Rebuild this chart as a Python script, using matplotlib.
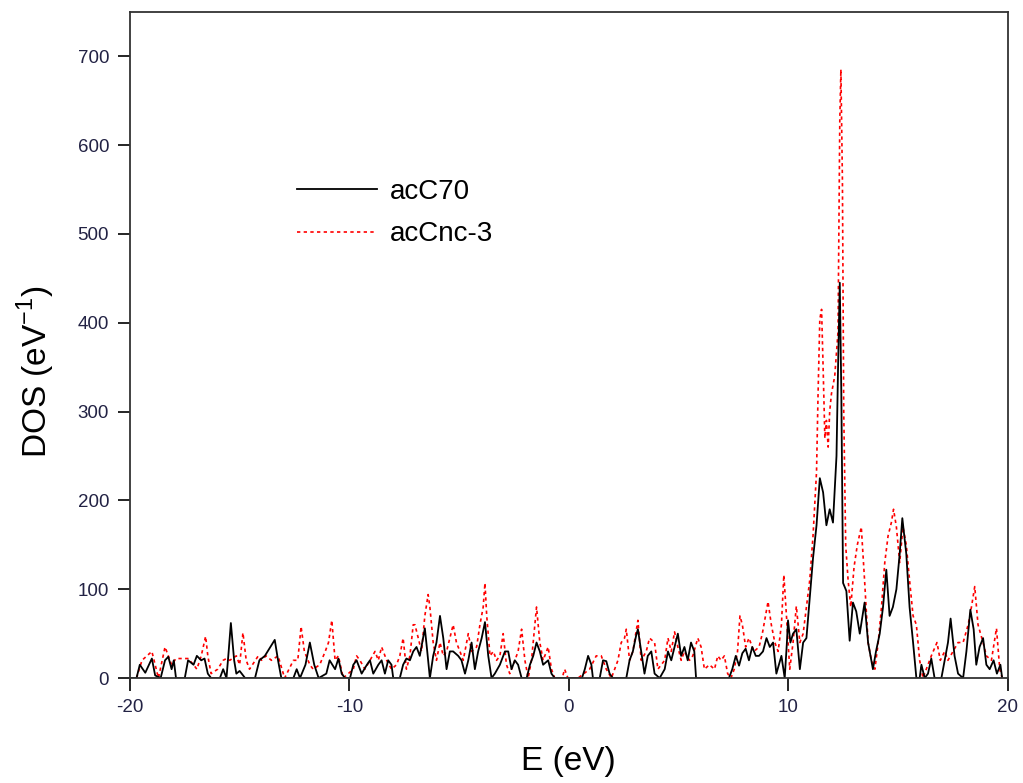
import matplotlib
matplotlib.use("Agg")
from matplotlib import pyplot as plt

# acC70 (black, solid)
e_c70 = [-20.0, -19.7, -19.55, -19.3, -19.0, -18.85, -18.6, -18.4, -18.25, -18.1,
         -18.0, -17.9, -17.5, -17.35, -17.1, -16.95, -16.75, -16.6, -16.45, -16.3,
         -15.9, -15.75, -15.6, -15.5, -15.4, -15.25, -15.15, -15.0, -14.75, -14.3,
         -14.1, -13.85, -13.65, -13.4, -13.25, -13.1, -12.55, -12.4, -12.25, -12.0,
         -11.8, -11.6, -11.4, -11.05, -10.9, -10.65, -10.5, -10.35, -10.2, -9.97,
         -9.82, -9.67, -9.44, -9.2, -9.06, -8.91, -8.68, -8.53, -8.38, -8.23,
         -8.08, -8.0, -7.7, -7.55, -7.4, -7.24, -7.09, -6.94, -6.79, -6.56,
         -6.45, -6.33, -6.18, -6.03, -5.87, -5.72, -5.57, -5.42, -5.27, -5.04,
         -4.89, -4.73, -4.58, -4.43, -4.28, -4.13, -3.97, -3.82, -3.67, -3.52,
         -3.37, -3.14, -2.91, -2.76, -2.61, -2.46, -2.31, -2.15, -1.92, -1.77,
         -1.62, -1.47, -1.32, -1.17, -0.94, -0.79, -0.64, 0.6, 0.73, 0.88,
         1.03, 1.1, 1.41, 1.56, 1.71, 1.86, 2.01, 2.62, 2.77, 2.92,
         3.07, 3.15, 3.3, 3.45, 3.6, 3.76, 3.91, 4.14, 4.37, 4.52,
         4.67, 4.82, 4.97, 5.12, 5.27, 5.42, 5.57, 5.72, 5.8, 7.3,
         7.45, 7.61, 7.76, 7.91, 8.06, 8.21, 8.36, 8.52, 8.67, 8.85,
         9.01, 9.16, 9.31, 9.46, 9.69, 9.84, 9.94, 9.99, 10.1, 10.22,
         10.37, 10.53, 10.68, 10.83, 10.98, 11.13, 11.29, 11.44, 11.59, 11.74,
         11.89, 12.04, 12.2, 12.27, 12.35, 12.42, 12.5, 12.65, 12.8, 12.95,
         13.1, 13.26, 13.48, 13.64, 13.86, 14.0, 14.17, 14.32, 14.47, 14.62,
         14.77, 14.93, 15.08, 15.2, 15.38, 15.53, 15.69, 15.84, 15.99, 16.07,
         16.22, 16.37, 16.52, 16.67, 16.98, 17.13, 17.28, 17.4, 17.58, 17.74,
         17.97, 18.12, 18.3, 18.45, 18.57, 18.72, 18.88, 19.03, 19.18, 19.36,
         19.51, 19.67, 19.75]
dos_c70 = [0, 0, 15, 6, 22, 3, 0, 20, 24, 10,
           20, 0, 0, 20, 15, 25, 20, 22, 5, 0,
           0, 10, 0, 30, 62, 20, 5, 8, 0, 0,
           20, 25, 33, 43, 20, 0, 0, 10, 0, 15,
           40, 15, 0, 5, 20, 10, 22, 5, 0, 0,
           15, 20, 5, 15, 20, 5, 15, 20, 5, 20,
           15, 0, 0, 15, 22, 20, 30, 35, 25, 56,
           30, 0, 25, 40, 70, 45, 10, 30, 30, 25,
           20, 5, 20, 40, 10, 30, 45, 63, 25, 0,
           5, 15, 30, 30, 10, 20, 15, 0, 0, 15,
           25, 40, 30, 15, 20, 5, 0, 0, 10, 25,
           15, 0, 0, 20, 19, 5, 0, 0, 20, 30,
           48, 55, 30, 5, 25, 30, 5, 0, 10, 30,
           20, 35, 50, 25, 35, 20, 40, 30, 0, 0,
           10, 25, 14, 28, 33, 20, 35, 25, 25, 30,
           45, 35, 40, 5, 25, 0, 40, 65, 40, 50,
           55, 10, 40, 45, 90, 135, 172, 225, 209, 172,
           190, 175, 250, 348, 445, 320, 107, 98, 42, 85,
           75, 50, 85, 40, 10, 30, 50, 80, 122, 70,
           80, 100, 140, 180, 140, 80, 40, 0, 0, 15,
           0, 5, 22, 0, 0, 20, 40, 67, 25, 5,
           0, 30, 77, 55, 15, 35, 45, 15, 10, 20,
           5, 15, 0]

# acCnc-3 (red, dotted)
e_cnc = [-20.0, -19.7, -19.45, -19.0, -18.7, -18.4, -18.1, -17.9, -17.55, -17.35,
         -17.1, -16.95, -16.75, -16.55, -16.45, -16.3, -16.0, -15.75, -15.6, -15.45,
         -15.15, -15.0, -14.85, -14.7, -14.55, -14.15, -14.0, -13.8, -13.55, -13.25,
         -12.95, -12.55, -12.35, -12.2, -12.05, -11.8, -11.65, -11.35, -11.1, -10.95,
         -10.8, -10.65, -10.5, -10.28, -9.82, -9.67, -9.52, -9.29, -9.06, -8.83,
         -8.68, -8.53, -8.3, -8.08, -7.85, -7.7, -7.55, -7.4, -7.24, -7.09,
         -7.01, -6.86, -6.71, -6.56, -6.41, -6.33, -6.18, -6.03, -5.87, -5.72,
         -5.57, -5.42, -5.27, -5.12, -4.96, -4.81, -4.58, -4.43, -4.2, -4.05,
         -3.9, -3.82, -3.74, -3.59, -3.44, -3.29, -3.14, -2.99, -2.84, -2.69,
         -2.53, -2.31, -2.15, -2.0, -1.85, -1.7, -1.47, -1.32, -1.17, -0.94,
         -0.79, -0.64, -0.3, -0.19, -0.04, 0.42, 0.95, 1.25, 1.48, 1.71,
         1.94, 2.24, 2.39, 2.54, 2.62, 2.77, 2.92, 3.15, 3.3, 3.53,
         3.68, 3.91, 4.06, 4.37, 4.52, 4.67, 4.82, 4.97, 5.12, 5.27,
         5.5, 5.65, 5.88, 6.03, 6.18, 6.41, 6.64, 6.79, 6.94, 7.09,
         7.24, 7.39, 7.54, 7.69, 7.8, 7.91, 8.06, 8.21, 8.44, 8.67,
         8.82, 9.08, 9.23, 9.39, 9.54, 9.69, 9.8, 9.92, 10.07, 10.22,
         10.37, 10.53, 10.68, 10.83, 10.98, 11.13, 11.29, 11.36, 11.44, 11.52,
         11.59, 11.67, 11.74, 11.82, 11.89, 11.97, 12.12, 12.27, 12.35, 12.4,
         12.47, 12.53, 12.62, 12.73, 12.85, 13.0, 13.15, 13.33, 13.48, 13.64,
         13.79, 13.95, 14.1, 14.25, 14.4, 14.55, 14.7, 14.8, 14.93, 15.08,
         15.23, 15.38, 15.53, 15.69, 15.84, 15.99, 16.14, 16.29, 16.52, 16.78,
         16.93, 17.13, 17.28, 17.51, 17.74, 17.97, 18.2, 18.35, 18.5, 18.65,
         18.88, 19.03, 19.26, 19.49, 19.64, 19.75]
dos_cnc = [0, 0, 20, 30, 0, 35, 15, 22, 22, 22,
           15, 10, 25, 47, 25, 5, 10, 20, 22, 20,
           25, 15, 51, 20, 10, 25, 20, 25, 20, 25,
           0, 20, 20, 58, 30, 15, 10, 15, 30, 40,
           65, 20, 25, 0, 10, 25, 20, 10, 20, 30,
           20, 35, 20, 10, 15, 25, 45, 10, 25, 60,
           60, 45, 30, 70, 94, 80, 40, 20, 40, 25,
           30, 45, 60, 40, 30, 20, 50, 30, 35, 60,
           80, 107, 70, 25, 30, 20, 25, 50, 15, 5,
           15, 30, 55, 20, 0, 20, 80, 40, 20, 35,
           10, 0, 0, 10, 0, 0, 10, 25, 25, 10,
           0, 20, 40, 45, 55, 20, 30, 65, 20, 30,
           45, 40, 10, 20, 45, 30, 52, 35, 20, 30,
           20, 25, 45, 35, 10, 15, 10, 25, 20, 25,
           5, 0, 10, 30, 70, 60, 35, 45, 30, 35,
           50, 86, 60, 40, 30, 60, 116, 70, 10, 40,
           81, 40, 50, 80, 110, 160, 232, 320, 404, 415,
           350, 270, 290, 260, 300, 320, 340, 390, 627, 685,
           560, 300, 149, 110, 80, 125, 150, 170, 110, 40,
           20, 10, 40, 80, 130, 160, 175, 190, 170, 130,
           170, 150, 110, 70, 60, 20, 0, 10, 25, 40,
           20, 30, 20, 30, 40, 40, 60, 80, 103, 60,
           40, 25, 20, 56, 10, 0]

x_ticks = [-20, -10, 0, 10, 20]
y_ticks = [0, 100, 200, 300, 400, 500, 600, 700]

plt.rcParams['font.family'] = ['Liberation Sans', 'DejaVu Sans']
plt.rcParams['axes.unicode_minus'] = False
plt.rcParams['mathtext.fontset'] = 'custom'
plt.rcParams['mathtext.rm'] = 'Liberation Sans'

fig = plt.figure(figsize=(10.23, 7.83), dpi=100)
ax = fig.add_axes([0.127, 0.134, 0.858, 0.851])

l2, = ax.plot(e_cnc, dos_cnc, color='red', lw=1.2, dashes=(2, 2), label='acCnc-3')
l1, = ax.plot(e_c70, dos_c70, color='black', lw=1.3, label='acC70')

ax.set_xlim(-20, 20)
ax.set_ylim(0, 750)
ax.set_xticks(x_ticks)
ax.set_yticks(y_ticks)
ax.tick_params(direction='out', length=9, width=1.2, labelsize=13.5, pad=6,
               labelcolor='#222244')
for s in ax.spines.values():
    s.set_linewidth(1.3)
    s.set_color('#333333')

ax.set_xlabel('E (eV)', fontsize=24, labelpad=22)
ax.set_ylabel(r'DOS (eV$^{\mathregular{-1}}$)', fontsize=24)
ax.yaxis.set_label_coords(-0.083, 0.46)

ax.legend(handles=[l1, l2], loc='center left', bbox_to_anchor=(0.19, 0.698),
          frameon=False, fontsize=20, handlelength=2.9, handletextpad=0.45,
          labelspacing=0.6, borderpad=0, borderaxespad=0)

plt.savefig('out.png', dpi=100)
